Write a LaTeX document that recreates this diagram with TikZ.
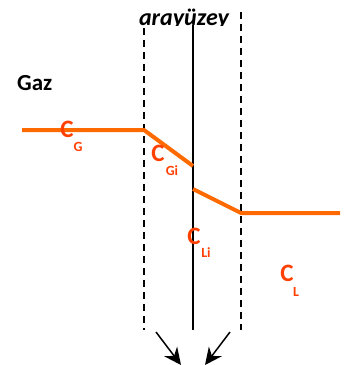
\documentclass[tikz,border=0pt]{standalone}
\usepackage{fontspec}
\setmainfont{Carlito}
\usetikzlibrary{arrows.meta}
\definecolor{profileorange}{HTML}{FF6A00}
\definecolor{labelorange}{HTML}{FF4000}
\tikzset{
  conc/.style={text=labelorange, font=\bfseries\fontsize{25}{25}\selectfont, inner sep=0pt},
  concsub/.style={text=labelorange, font=\bfseries\fontsize{14}{14}\selectfont, inner sep=0pt},
  filmedge/.style={black, line width=1.5pt, dash pattern=on 7pt off 5pt},
  profile/.style={profileorange, line width=4pt},
  fluxarrow/.style={black, line width=1.5pt, -{Stealth[length=17pt,width=16pt]}}
}
\begin{document}
\begin{tikzpicture}[x=1pt,y=-1pt]
    \useasboundingbox (0,0) rectangle (348,365);
    % interface title, descenders cut off
    \begin{scope}
        \clip (100,0) rectangle (260,25);
        \node[anchor=base, inner sep=0pt, font=\bfseries\itshape\fontsize{24}{24}\selectfont] (iface) at (184,25) {arayüzey};
    \end{scope}
    \node[anchor=base west, inner sep=0pt, font=\bfseries\fontsize{23}{23}\selectfont] (gas) at (17,90) {Gaz};
    % film boundaries and interface
    \coordinate (gtop) at (144,28);
    \coordinate (gbot) at (144,330);
    \coordinate (ltop) at (241,12);
    \coordinate (lbot) at (241,330);
    \coordinate (itop) at (193,25);
    \coordinate (ibot) at (193,330);
    \draw[filmedge] (gtop) -- (gbot);
    \draw[filmedge] (ltop) -- (lbot);
    \draw[black, line width=1.5pt] (itop) -- (ibot);
    % concentration profiles
    \coordinate (gstart) at (22,130);
    \coordinate (gfilm) at (144,130);
    \coordinate (gint) at (193,166);
    \coordinate (lint) at (193,189);
    \coordinate (lfilm) at (241,213);
    \coordinate (lend) at (340,213);
    \draw[profile] (gstart) -- (gfilm) -- (gint);
    \draw[profile] (lint) -- (lfilm) -- (lend);
    % labels
    \node[conc] (cg) at (67,129) {C};
    \node[concsub] (cgs) at (78,147) {G};
    \node[conc] (cgi) at (158,153) {C};
    \node[concsub] (cgis) at (172,171) {Gi};
    \node[conc] (cli) at (194,236) {C};
    \node[concsub] (clis) at (206,253) {Li};
    \node[conc] (cl) at (287,273) {C};
    \node[concsub] (cls) at (296,292) {L};
    % arrows
    \coordinate (aone) at (156,332);
    \coordinate (aonetip) at (181,365);
    \coordinate (atwo) at (230,332);
    \coordinate (atwotip) at (205,365);
    \draw[fluxarrow] (aone) -- (aonetip);
    \draw[fluxarrow] (atwo) -- (atwotip);
\end{tikzpicture}
\end{document}
